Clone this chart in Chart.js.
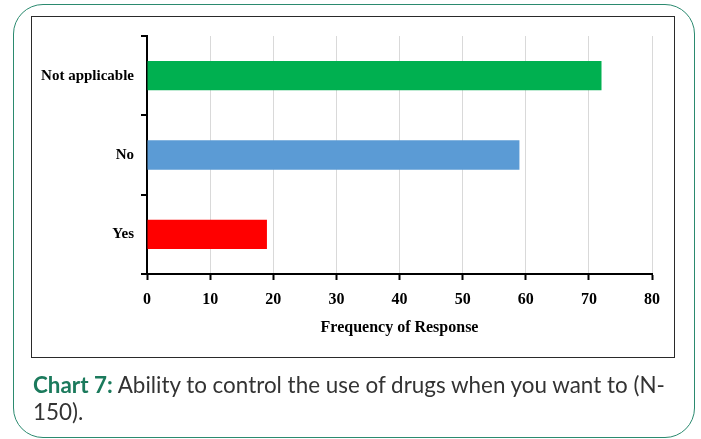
<!DOCTYPE html>
<html>
<head>
<meta charset="utf-8">
<script src="https://cdn.jsdelivr.net/npm/chart.js@4.4.1/dist/chart.umd.min.js"></script>
<style>
  html, body { margin: 0; padding: 0; background: #fff; }
  body { width: 701px; height: 439px; position: relative; overflow: hidden; }
  #frame {
    position: absolute; left: 13px; top: 4px; width: 680px; height: 432px;
    border: 1.5px solid #2b8a6f; border-radius: 30px;
  }
  #box {
    position: absolute; left: 31px; top: 16px; width: 642px; height: 340px;
    border: 1.5px solid #2a2a2a;
  }
  #chart { position: absolute; left: 0; top: 0; }
  .cap {
    position: absolute; left: 33px; font-family: Lato, "Open Sans", sans-serif;
    font-size: 20px; line-height: 25px; color: #333; white-space: nowrap;
  }
  .cap b { color: #1b7a5c; font-weight: 700; }
</style>
</head>
<body>
<div id="frame"></div>
<div id="box"></div>
<canvas id="chart" width="701" height="439"></canvas>
<div class="cap" id="cap1" style="top:372px"><b>Chart 7:</b> Ability to control the use of drugs when you want to (N-</div>
<div class="cap" id="cap2" style="top:399px">150).</div>
<script>
// Responses to "ability to control the use of drugs" (N = 150)
const categories = ['Not applicable', 'No', 'Yes'];
const responses = [72, 59, 19];
const barColors = ['#00b050', '#5b9bd5', '#ff0000'];
const xTicks = [0, 10, 20, 30, 40, 50, 60, 70, 80];
const xTitle = 'Frequency of Response';

const serifBold = (size) => ({ family: '"Liberation Serif", "Times New Roman", serif', size: size, weight: 'bold' });

new Chart(document.getElementById('chart'), {
  type: 'bar',
  data: {
    labels: categories,
    datasets: [{
      data: responses,
      backgroundColor: barColors,
      borderWidth: 0,
      barPercentage: 0.37,
      categoryPercentage: 1.0
    }]
  },
  options: {
    indexAxis: 'y',
    responsive: false,
    animation: false,
    events: [],
    layout: { padding: { left: 33, top: 36, right: 49, bottom: 99 } },
    plugins: { legend: { display: false }, tooltip: { enabled: false } },
    scales: {
      x: {
        min: xTicks[0],
        max: xTicks[xTicks.length - 1],
        afterBuildTicks: (scale) => { scale.ticks = xTicks.map(v => ({ value: v })); },
        afterFit: (scale) => { scale.height = 66; },
        grid: { color: '#d9d9d9', lineWidth: 1, tickColor: '#000', tickWidth: 2, tickLength: 6 },
        border: { color: '#000', width: 2 },
        ticks: { color: '#000', font: serifBold(16), padding: 10 },
        title: { display: true, text: xTitle, color: '#000', font: serifBold(16), padding: { top: 0, bottom: 3 } }
      },
      y: {
        afterFit: (scale) => { scale.width = 114; },
        grid: { drawOnChartArea: false, color: '#000', lineWidth: 2, tickLength: 6, offset: true },
        border: { color: '#000', width: 2 },
        ticks: { color: '#000', font: serifBold(15), padding: 7 }
      }
    }
  }
});

// Keep the first caption line at the text block's width
(function fitCaption() {
  const el = document.getElementById('cap1');
  const el2 = document.getElementById('cap2');
  const w = el.getBoundingClientRect().width;
  if (w > 0) {
    const size = 20 * 632 / w;
    el.style.fontSize = size + 'px';
    el2.style.fontSize = size + 'px';
  }
})();
</script>
</body>
</html>
